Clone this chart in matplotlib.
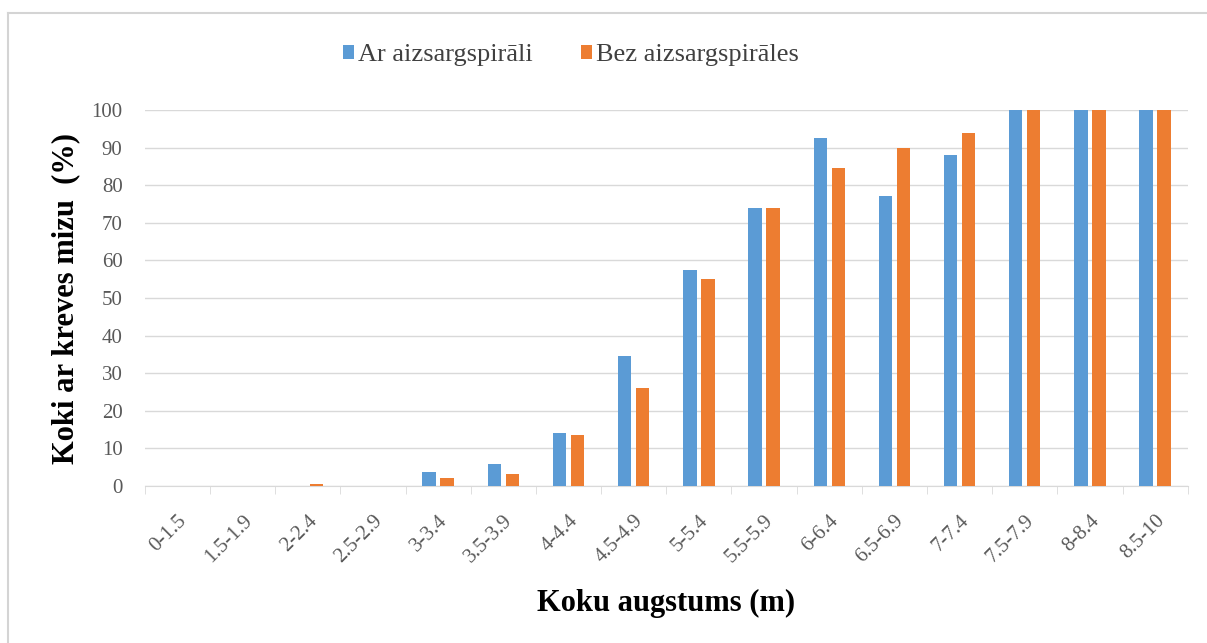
import matplotlib
matplotlib.use("Agg")
import matplotlib.pyplot as plt
import numpy as np
from matplotlib.lines import Line2D

categories = ["0-1.5", "1.5-1.9", "2-2.4", "2.5-2.9", "3-3.4", "3.5-3.9", "4-4.4", "4.5-4.9",
              "5-5.4", "5.5-5.9", "6-6.4", "6.5-6.9", "7-7.4", "7.5-7.9", "8-8.4", "8.5-10"]
ar_spirali = [0, 0, 0, 0, 3.7, 6.0, 14.0, 34.5, 57.5, 74.0, 92.5, 77.0, 88.0, 100, 100, 100]
bez_spirales = [0, 0, 0.6, 0, 2.2, 3.3, 13.5, 26.0, 55.0, 74.0, 84.5, 90.0, 94.0, 100, 100, 100]
series_names = ["Ar aizsargspirāli", "Bez aizsargspirāles"]
yticks = list(range(0, 101, 10))

plt.rcParams['font.family'] = ['Liberation Serif', 'DejaVu Serif']

fig = plt.figure(figsize=(12.07, 6.43), dpi=100)
# light chart-area frame (top and left edges visible)
fig.add_artist(Line2D([0.007, 1.0], [0.980, 0.980], transform=fig.transFigure,
                      color="#D4D4D4", linewidth=1.5))
fig.add_artist(Line2D([0.007, 0.007], [0.0, 0.980], transform=fig.transFigure,
                      color="#D4D4D4", linewidth=1.5))

ax = fig.add_axes([0.120, 0.244, 0.864, 0.585])

x = np.arange(len(categories))
w = 0.205
off = 0.138
b1 = ax.bar(x - off, ar_spirali, w, color="#5B9BD5", label=series_names[0], zorder=3)
b2 = ax.bar(x + off, bez_spirales, w, color="#ED7D31", label=series_names[1], zorder=3)

ax.set_xlim(-0.5, len(categories) - 0.5)
ax.set_ylim(0, 100)
ax.set_yticks(yticks)
ax.set_yticklabels([str(v) for v in yticks], color="#595959", fontsize=15)
ax.grid(axis="y", color="#D9D9D9", linewidth=1.0, zorder=0)
for s in ["top", "right", "left"]:
    ax.spines[s].set_visible(False)
ax.spines["bottom"].set_color("#D9D9D9")
ax.tick_params(axis="y", length=0, pad=16)

ax.set_xticks(x)
ax.set_xticklabels(categories, rotation=45, ha="right", rotation_mode="anchor",
                   color="#595959", fontsize=15)
ax.tick_params(axis="x", length=0, pad=18)
ax.set_xticks(np.arange(-0.5, len(categories), 1), minor=True)
ax.tick_params(axis="x", which="minor", length=6, color="#D9D9D9")

ax.set_ylabel("Koki ar kreves mizu  (%)", fontsize=22, fontweight="bold", labelpad=8)
ax.set_xlabel("Koku augstums (m)", fontsize=22, fontweight="bold", labelpad=16)

fig.legend(handles=[b1, b2], labels=series_names, loc="center", bbox_to_anchor=(0.473, 0.914),
           ncol=2, frameon=False, fontsize=19, handlelength=0.45, handleheight=0.45,
           handletextpad=0.15, columnspacing=1.8, labelcolor="#404040")

fig.savefig("out.png", dpi=100)
